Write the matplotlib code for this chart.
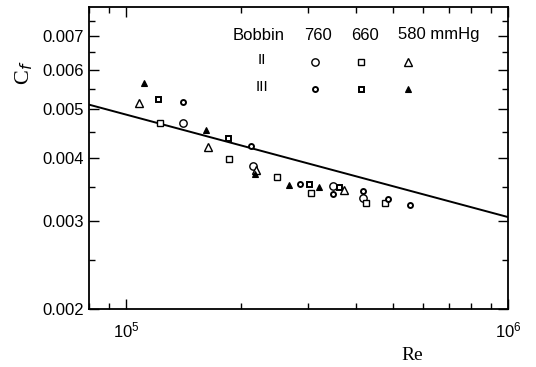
import matplotlib
matplotlib.use("Agg")
import matplotlib.pyplot as plt
from matplotlib.lines import Line2D
from matplotlib.ticker import FixedLocator, NullFormatter, LogLocator

plt.rcParams['font.family'] = ['Liberation Sans', 'DejaVu Sans']
plt.rcParams['mathtext.fontset'] = 'custom'
plt.rcParams['mathtext.rm'] = 'Liberation Sans'

# ---- data ----
re_ii_760 = [1.41e5, 2.146e5, 3.49e5, 4.16e5]
cf_ii_760 = [0.00470, 0.00386, 0.00352, 0.00333]
re_iii_760 = [1.41e5, 2.12e5, 2.86e5, 3.49e5, 4.16e5, 4.86e5, 5.55e5]
cf_iii_760 = [0.00518, 0.00423, 0.00355, 0.00339, 0.00343, 0.00332, 0.00323]
re_ii_660 = [1.227e5, 1.858e5, 2.48e5, 3.041e5, 4.24e5, 4.77e5]
cf_ii_660 = [0.00470, 0.00399, 0.00367, 0.00341, 0.00326, 0.00326]
re_iii_660 = [1.212e5, 1.846e5, 3.005e5, 3.6e5]
cf_iii_660 = [0.00525, 0.00439, 0.00355, 0.00350]
re_ii_580 = [1.081e5, 1.637e5, 2.185e5, 3.71e5]
cf_ii_580 = [0.00516, 0.00421, 0.00379, 0.00346]
re_iii_580 = [1.114e5, 1.618e5, 2.172e5, 2.665e5, 3.21e5]
cf_iii_580 = [0.00565, 0.00455, 0.00372, 0.00354, 0.00350]
re_line = [8.0e4, 1.0e6]
cf_line = [0.00511, 0.00305]

y_major = [0.002, 0.003, 0.004, 0.005, 0.006, 0.007]
y_major_labels = ['0.002', '0.003', '0.004', '0.005', '0.006', '0.007']
y_minor = [0.0025, 0.0035, 0.0045, 0.0055, 0.0065, 0.0075]

legend_cols = ['Bobbin', '760', '660', '580 mmHg']
legend_rows = ['II', 'III']

W, H = 536, 367
fig = plt.figure(figsize=(W / 100, H / 100), dpi=100)
ax = fig.add_axes([89 / W, 1 - 309 / H, (508 - 89) / W, (309 - 7) / H])
ax.set_xscale('log')
ax.set_yscale('log')
ax.set_xlim(8e4, 1e6)
ax.set_ylim(0.002, 0.008)

ax.plot(re_line, cf_line, color='black', lw=1.4)

big = dict(linestyle='none', mfc='white', mec='black', mew=1.0)
small = dict(linestyle='none', mfc='white', mec='black', mew=1.4)
st_ii_760 = dict(marker='o', ms=5.3, **big)
st_ii_660 = dict(marker='s', ms=5.0, **big)
st_ii_580 = dict(marker='^', ms=5.8, **big)
st_iii_760 = dict(marker='o', ms=3.6, **small)
st_iii_660 = dict(marker='s', ms=3.6, **small)
st_iii_580 = dict(marker='^', ms=4.2, linestyle='none', mfc='black', mec='black', mew=0.8)

ax.plot(re_ii_760, cf_ii_760, **st_ii_760)
ax.plot(re_ii_660, cf_ii_660, **st_ii_660)
ax.plot(re_ii_580, cf_ii_580, **st_ii_580)
ax.plot(re_iii_760, cf_iii_760, **st_iii_760)
ax.plot(re_iii_660, cf_iii_660, **st_iii_660)
ax.plot(re_iii_580, cf_iii_580, **st_iii_580)

ax.yaxis.set_major_locator(FixedLocator(y_major))
ax.set_yticklabels(y_major_labels)
ax.yaxis.set_minor_locator(FixedLocator(y_minor))
ax.yaxis.set_minor_formatter(NullFormatter())
ax.xaxis.set_major_locator(LogLocator(base=10))
ax.xaxis.set_minor_locator(LogLocator(base=10, subs=range(2, 10)))
ax.xaxis.set_minor_formatter(NullFormatter())

ax.tick_params(which='both', direction='in', top=True, right=True,
               width=1.0, labelsize=12)
ax.tick_params(which='major', length=7)
ax.tick_params(which='minor', length=4)
ax.tick_params(axis='x', pad=8)
for s in ax.spines.values():
    s.set_linewidth(1.3)

ax.set_xlabel('Re', family='Liberation Serif', fontsize=14, va='center')
ax.xaxis.set_label_coords((412 - 89) / (508 - 89), -(356 - 309) / (309 - 7))
fig.text(24 / W, 1 - 73 / H, r'C$_f$', rotation=90, ha='center', va='center',
         family='Liberation Serif', fontsize=16)

# legend table
head_y = 35
fig.text(259 / W, 1 - head_y / H, legend_cols[0], ha='center', va='center', fontsize=12)
fig.text(318 / W, 1 - head_y / H, legend_cols[1], ha='center', va='center', fontsize=12)
fig.text(365 / W, 1 - head_y / H, legend_cols[2], ha='center', va='center', fontsize=12)
fig.text(398 / W, 1 - head_y / H, legend_cols[3], ha='left', va='center', fontsize=12)
row_y = [62, 89]
for r, lbl in enumerate(legend_rows):
    fig.text(262 / W, 1 - (row_y[r] - 2) / H, lbl, ha='center', va='center', fontsize=11)

mx = [315, 361, 408]
for r, sty in enumerate([[st_ii_760, st_ii_660, st_ii_580],
                         [st_iii_760, st_iii_660, st_iii_580]]):
    for c in range(3):
        fig.add_artist(Line2D([mx[c] / W], [1 - row_y[r] / H],
                              transform=fig.transFigure, **sty[c]))

fig.savefig('out.png', dpi=100)
